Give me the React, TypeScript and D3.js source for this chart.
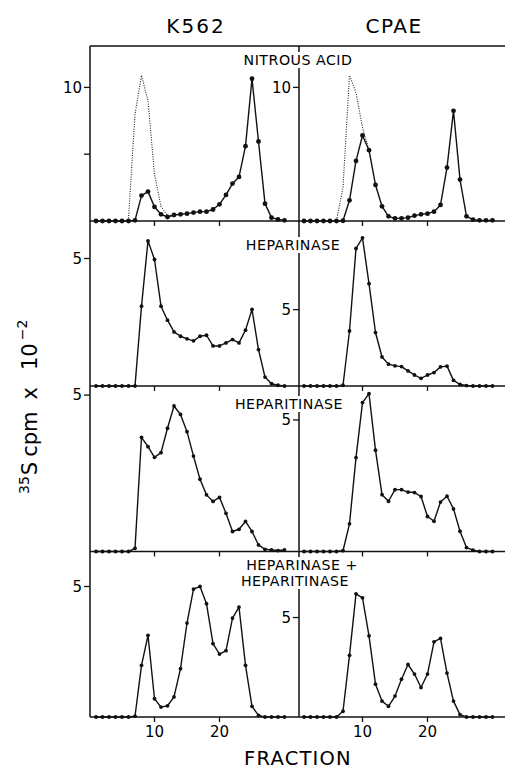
import React from 'react';
import * as d3 from 'd3';

// fraction numbers start at 1 for every series
const k562Nitrous = [0, 0, 0, 0, 0, 0, 0.05, 1.9, 2.2, 1.05, 0.5, 0.3, 0.45, 0.5, 0.55, 0.63, 0.7, 0.7, 0.86, 1.25, 1.95, 2.8, 3.3, 5.6, 10.65, 5.95, 1.3, 0.25, 0.12, 0.05];
const cpaeNitrous = [0, 0, 0, 0, 0, 0, 0.02, 1.55, 4.5, 6.4, 5.3, 2.7, 1.1, 0.35, 0.2, 0.2, 0.25, 0.4, 0.5, 0.55, 0.7, 1.2, 4.0, 8.25, 3.1, 0.35, 0.1, 0.05, 0.05, 0.05];
// untreated controls (dotted), these start at fraction 6
const k562Control = [0.2, 8.0, 10.9, 9.0, 3.5, 1.1, 0.4, 0.45];
const cpaeControl = [0.05, 2.5, 10.9, 9.6, 7.0, 5.3];

const k562Heparinase = [0, 0, 0, 0, 0, 0, 0, 3.13, 5.69, 4.96, 3.13, 2.58, 2.12, 1.95, 1.85, 1.77, 1.95, 1.99, 1.57, 1.57, 1.69, 1.82, 1.69, 2.19, 3.0, 1.43, 0.35, 0.09, 0.03, 0];
const cpaeHeparinase = [0, 0, 0, 0, 0, 0, 0.05, 3.6, 9.0, 9.7, 6.7, 3.5, 1.9, 1.43, 1.32, 1.27, 0.99, 0.72, 0.5, 0.72, 0.88, 1.25, 1.3, 0.37, 0.1, 0.03, 0, 0, 0, 0];

const k562Heparitinase = [0, 0, 0, 0, 0, 0, 0.1, 3.65, 3.35, 3.01, 3.16, 3.94, 4.65, 4.38, 3.83, 3.05, 2.31, 1.81, 1.6, 1.73, 1.22, 0.64, 0.71, 0.96, 0.64, 0.21, 0.07, 0.05, 0.03, 0.05];
const cpaeHeparitinase = [0, 0, 0, 0, 0, 0, 0.03, 1.05, 3.57, 5.66, 6.0, 3.85, 2.16, 1.91, 2.35, 2.35, 2.26, 2.24, 2.09, 1.33, 1.15, 1.88, 2.1, 1.62, 0.77, 0.15, 0.05, 0, 0, 0];

const k562Both = [0, 0, 0, 0, 0, 0, 0.03, 1.98, 3.13, 0.7, 0.38, 0.43, 0.77, 1.85, 3.6, 4.9, 5.0, 4.34, 2.81, 2.41, 2.54, 3.79, 4.21, 1.98, 0.41, 0.06, 0, 0, 0, 0];
const cpaeBoth = [0, 0, 0, 0, 0, 0, 0.29, 3.1, 6.19, 5.99, 4.08, 1.65, 0.8, 0.54, 1.05, 1.9, 2.64, 2.16, 1.48, 2.16, 3.78, 3.95, 2.21, 0.8, 0.12, 0, 0, 0, 0, 0];

const columnNames = ['K562', 'CPAE'];
const xTicks = [10, 20];

type Pt = { f: number; v: number };
const toPoints = (vals: number[], start = 1): Pt[] => vals.map((v, i) => ({ f: start + i, v }));

const font = '"DejaVu Sans", sans-serif';

const frameLeft = 90;
const frameRight = 505;
const divider = 299;
const frameTop = 46;
const rowTops = [46, 221, 386, 551.5];
const rowBottoms = [221, 386, 551.5, 717];

const xScales = [
  d3.scaleLinear().domain([0, 32]).range([89.5, 297.5]),
  d3.scaleLinear().domain([0, 32]).range([297.5, 505.5]),
];

const rows = [
  {
    title: ['NITROUS ACID'], titleX: [298], titleY: [65], boxW: 118,
    cols: [
      { data: k562Nitrous, control: k562Control, yMax: 13.1, ticks: [5, 10], labels: [10] },
      { data: cpaeNitrous, control: cpaeControl, yMax: 13.1, ticks: [10], labels: [10] },
    ],
  },
  {
    title: ['HEPARINASE'], titleX: [293], titleY: [250], boxW: 106,
    cols: [
      { data: k562Heparinase, yMax: 6.47, ticks: [5], labels: [5] },
      { data: cpaeHeparinase, yMax: 10.8, ticks: [5], labels: [5] },
    ],
  },
  {
    title: ['HEPARITINASE'], titleX: [289], titleY: [409], boxW: 120,
    cols: [
      { data: k562Heparitinase, yMax: 5.29, ticks: [5], labels: [5] },
      { data: cpaeHeparitinase, yMax: 6.29, ticks: [5], labels: [5] },
    ],
  },
  {
    title: ['HEPARINASE +', 'HEPARITINASE'], titleX: [302, 295], titleY: [570, 586], boxW: 124,
    cols: [
      { data: k562Both, yMax: 6.34, ticks: [5], labels: [5] },
      { data: cpaeBoth, yMax: 8.32, ticks: [5], labels: [5] },
    ],
  },
];

export default function App() {
  return (
    <svg width={506} height={770} style={{ position: 'absolute', left: 0, top: 0, background: '#fff' }} fontFamily={font}>
      <rect width={506} height={770} fill="#fff" />

      {/* column headings */}
      <text x={196} y={33} fontSize={20} textAnchor="middle" letterSpacing={2}>{columnNames[0]}</text>
      <text x={394} y={33} fontSize={20} textAnchor="middle" letterSpacing={1.5}>{columnNames[1]}</text>

      {/* frame */}
      <g stroke="#111" strokeWidth={1.5} fill="none">
        <line x1={frameLeft} x2={frameRight} y1={frameTop} y2={frameTop} />
        <line x1={frameLeft} x2={frameLeft} y1={frameTop} y2={rowBottoms[3]} />
        <line x1={divider} x2={divider} y1={frameTop} y2={rowBottoms[3]} />
        {rowBottoms.map((y, i) => (
          <line key={i} x1={frameLeft} x2={frameRight} y1={y} y2={y} />
        ))}
      </g>

      {/* white backing behind the titles so the divider breaks there */}
      {rows.map((row, ri) => (
        <rect
          key={'bg' + ri}
          x={d3.mean(row.titleX)! - row.boxW / 2}
          y={row.titleY[0] - 13}
          width={row.boxW}
          height={row.titleY[row.titleY.length - 1] - row.titleY[0] + 16}
          fill="#fff"
        />
      ))}

      {rows.map((row, ri) => {
        const bottom = rowBottoms[ri];
        const top = rowTops[ri];
        return (
          <g key={ri}>
            {row.cols.map((col, ci) => {
              const x = xScales[ci];
              const y = d3.scaleLinear().domain([0, col.yMax]).range([bottom, top]);
              const line = d3.line<Pt>().x(d => x(d.f)).y(d => y(d.v));
              const pts = toPoints(col.data);
              const axisX = ci === 0 ? frameLeft : divider;
              const control = (col as any).control as number[] | undefined;
              return (
                <g key={ci}>
                  {control && (
                    <path d={line(toPoints(control, 6)) || ''} fill="none" stroke="#222" strokeWidth={1.1} strokeDasharray="1,1.4" />
                  )}
                  <path d={line(pts) || ''} fill="none" stroke="#111" strokeWidth={1.4} strokeLinejoin="round" />
                  {pts.map((p, i) => (
                    <circle key={i} cx={x(p.f)} cy={y(p.v)} r={ri === 0 ? 2.4 : 1.9} fill="#111" />
                  ))}
                  {col.ticks.map(t => (
                    <line key={t} x1={axisX - 6} x2={axisX} y1={y(t)} y2={y(t)} stroke="#111" strokeWidth={1.3} />
                  ))}
                  {col.labels.map(t => (
                    <text key={t} x={axisX - 8} y={y(t)} dy="0.36em" fontSize={15} textAnchor="end">{t}</text>
                  ))}
                  {xTicks.map(t => (
                    <line key={t} x1={x(t)} x2={x(t)} y1={bottom} y2={bottom + 5} stroke="#111" strokeWidth={1.3} />
                  ))}
                  {ri === rows.length - 1 && xTicks.map(t => (
                    <text key={'l' + t} x={x(t)} y={737} fontSize={15} textAnchor="middle">{t}</text>
                  ))}
                </g>
              );
            })}
            {row.title.map((t, i) => (
              <text key={i} x={row.titleX[i]} y={row.titleY[i]} fontSize={14.2} textAnchor="middle" letterSpacing={0.5}>{t}</text>
            ))}
          </g>
        );
      })}

      {/* axis titles */}
      <text x={298} y={765} fontSize={19.5} textAnchor="middle" letterSpacing={1.2}>FRACTION</text>
      <text transform="translate(37,494) rotate(-90)" fontSize={21}>
        <tspan fontSize={14} dy={-8}>35</tspan>
        <tspan dy={8} dx={1}>S</tspan>
        <tspan dx={5}>cpm</tspan>
        <tspan dx={12}>x</tspan>
        <tspan dx={17}>10</tspan>
        <tspan fontSize={14} dy={-10} dx={3}>−2</tspan>
      </text>
    </svg>
  );
}
